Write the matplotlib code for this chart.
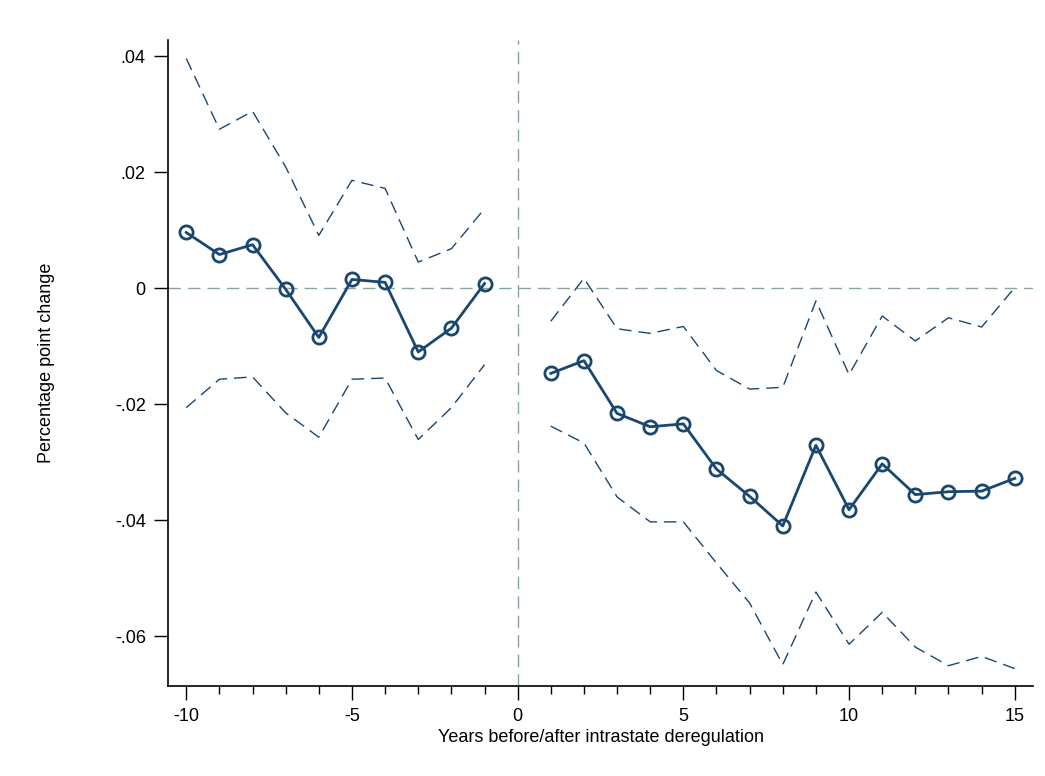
import numpy as np
import matplotlib
matplotlib.use("Agg")
import matplotlib.pyplot as plt
from matplotlib.ticker import MultipleLocator, FuncFormatter

plt.rcParams['font.family'] = ['Liberation Sans', 'DejaVu Sans']
plt.rcParams['axes.unicode_minus'] = False

# event-time estimates
years_pre = [-10, -9, -8, -7, -6, -5, -4, -3, -2, -1]
coef_pre = [0.0096, 0.0058, 0.0075, -0.0002, -0.0085, 0.0015, 0.0010, -0.0110, -0.0069, 0.0008]
upper_pre = [0.0396, 0.0274, 0.0305, 0.0209, 0.0091, 0.0186, 0.0172, 0.0045, 0.0068, 0.0137]
lower_pre = [-0.0206, -0.0157, -0.0153, -0.0215, -0.0257, -0.0157, -0.0155, -0.0261, -0.0206, -0.0132]

years_post = list(range(1, 16))
coef_post = [-0.0147, -0.0125, -0.0216, -0.0239, -0.0234, -0.0312, -0.0359, -0.0410,
             -0.0271, -0.0382, -0.0303, -0.0356, -0.0351, -0.0350, -0.0328]
upper_post = [-0.0057, 0.0017, -0.0070, -0.0078, -0.0066, -0.0142, -0.0174, -0.0171,
              -0.0022, -0.0149, -0.0048, -0.0091, -0.0051, -0.0067, 0.0001]
lower_post = [-0.0238, -0.0267, -0.0360, -0.0403, -0.0403, -0.0474, -0.0543, -0.0649,
              -0.0524, -0.0614, -0.0559, -0.0619, -0.0651, -0.0635, -0.0656]

navy = '#1a476f'
refcol = '#8ca59c'

fig = plt.figure(figsize=(10.45, 7.76), dpi=100)
ax = fig.add_axes([0.1608, 0.116, 0.8277, 0.8325])

ax.axhline(0, color=refcol, lw=1.0, ls=(0, (9, 5)), zorder=1)
ax.axvline(0, color=refcol, lw=1.0, ls=(0, (9, 5)), zorder=1)

for yrs, c, up, lo in [(years_pre, coef_pre, upper_pre, lower_pre),
                       (years_post, coef_post, upper_post, lower_post)]:
    ax.plot(yrs, up, color=navy, lw=1.0, ls=(0, (9, 5)), zorder=2)
    ax.plot(yrs, lo, color=navy, lw=1.0, ls=(0, (9, 5)), zorder=2)
    ax.plot(yrs, c, color=navy, lw=2.0, marker='o', ms=9.5, mfc='none',
            mec=navy, mew=2.0, zorder=3)

ax.set_xlim(-10.55, 15.55)
ax.set_ylim(-0.0686, 0.0428)

ax.xaxis.set_major_locator(MultipleLocator(5))
ax.xaxis.set_minor_locator(MultipleLocator(1))
ax.set_yticks([-0.06, -0.04, -0.02, 0, 0.02, 0.04])


def fmt(v, pos):
    if abs(v) < 1e-9:
        return '0'
    s = f'{v:.2f}'
    return s.replace('0.', '.')


ax.yaxis.set_major_formatter(FuncFormatter(fmt))

ax.tick_params(axis='both', which='major', length=10, width=1.0, labelsize=13, colors='black', pad=6)
ax.tick_params(axis='x', which='minor', length=6, width=1.0)

for s in ['top', 'right']:
    ax.spines[s].set_visible(False)
for s in ['left', 'bottom']:
    ax.spines[s].set_linewidth(1.2)

ax.set_xlabel('Years before/after intrastate deregulation', fontsize=13, labelpad=3)
ax.set_ylabel('Percentage point change', fontsize=13, labelpad=43)

fig.savefig('out.png', dpi=100, facecolor='white')
